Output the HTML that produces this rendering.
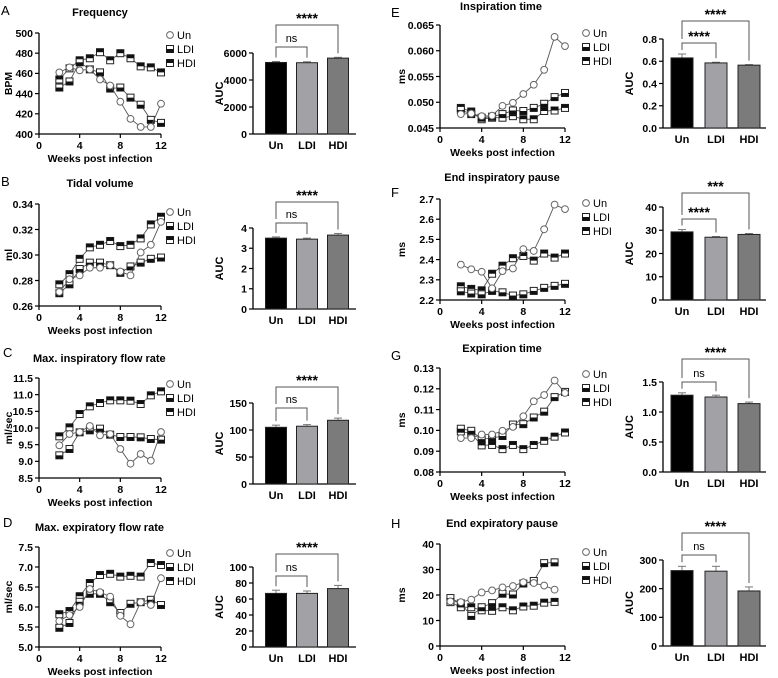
<!DOCTYPE html>
<html><head><meta charset="utf-8">
<style>
body{margin:0;background:#fff;}
svg{display:block;font-family:"Liberation Sans",Arial,sans-serif;}
</style></head>
<body>
<svg id="fig" width="778" height="678" viewBox="0 0 778 678" xmlns="http://www.w3.org/2000/svg"></svg>
<script>
const weeks = [2,3,4,5,6,7,8,9,10,11,12];
const weeksH = [1,2,3,4,5,6,7,8,9,10,11];
const groups = ["Un","LDI","HDI"];

const unA=[461,466,463,464,454,448,432,415,407,407,430];
const ldiA=[446,452,471,464,461,445,446,436,429,414,411];
const hdiA=[454,465,473,475,481,473,480,475,467,466,461];
const aucA=[5300,5280,5620]; const errA=[70,70,60];

const unB=[0.271,0.281,0.284,0.290,0.290,0.292,0.287,0.284,0.302,0.308,0.326];
const ldiB=[0.270,0.277,0.289,0.294,0.294,0.292,0.286,0.291,0.294,0.297,0.298];
const hdiB=[0.277,0.285,0.297,0.306,0.308,0.311,0.307,0.308,0.313,0.324,0.330];
const aucB=[3.5,3.45,3.65]; const errB=[0.06,0.05,0.08];

const unC=[9.48,9.82,9.88,10.06,9.78,9.82,9.37,8.93,9.22,9.02,9.88];
const ldiC=[9.18,9.37,9.87,9.93,9.98,9.8,9.73,9.73,9.72,9.67,9.65];
const hdiC=[9.75,10.02,10.42,10.65,10.75,10.83,10.83,10.82,10.72,10.98,11.1];
const aucC=[105,107,118]; const errC=[4,3,4];

const unD=[5.65,5.8,6.0,6.45,6.37,6.26,5.78,5.57,6.12,6.05,6.72];
const ldiD=[5.48,5.6,6.13,6.33,6.33,6.12,5.85,6.08,6.12,6.18,6.05];
const hdiD=[5.82,5.9,6.27,6.6,6.8,6.83,6.76,6.78,6.76,7.1,7.05];
const aucD=[67,67,73]; const errD=[4,3,4];

const unE=[0.0477,0.0478,0.0473,0.0474,0.0493,0.0499,0.0516,0.0534,0.0563,0.0627,0.0609];
const ldiE=[0.0485,0.0477,0.0470,0.0472,0.0477,0.0484,0.0483,0.0489,0.0497,0.0510,0.0518];
const hdiE=[0.0489,0.0482,0.0467,0.0470,0.0470,0.0473,0.0467,0.0467,0.0483,0.0484,0.0489];
const aucE=[0.63,0.585,0.565]; const errE=[0.035,0.006,0.005];

const unF=[2.375,2.352,2.34,2.258,2.343,2.356,2.452,2.443,2.55,2.672,2.65];
const ldiF=[2.243,2.232,2.228,2.245,2.238,2.222,2.228,2.245,2.26,2.27,2.28];
const hdiF=[2.268,2.255,2.248,2.33,2.37,2.407,2.418,2.395,2.43,2.41,2.43];
const aucF=[29.3,27,28.2]; const errF=[1.0,0.3,0.4];

const unG=[0.0963,0.0963,0.098,0.098,0.0998,0.1017,0.1068,0.114,0.117,0.124,0.118];
const ldiG=[0.1008,0.0998,0.0958,0.0963,0.0973,0.1028,0.103,0.1062,0.109,0.116,0.1185];
const hdiG=[0.0995,0.0985,0.0928,0.093,0.091,0.093,0.091,0.093,0.095,0.097,0.099];
const aucG=[1.28,1.25,1.14]; const errG=[0.04,0.03,0.025];

const unH=[17.5,17.2,18.2,21,21.8,23,23.5,25,24.7,23.7,22.1];
const ldiH=[18.8,16.7,11.8,15.2,16.8,20.5,20.2,24.5,25.5,32.5,32.8];
const hdiH=[17.2,15.2,15.2,14,13.8,15.2,14,15.5,15.8,17,17.3];
const aucH=[263,261,192]; const errH=[15,17,14];

const svg=document.getElementById('fig');
const NS='http://www.w3.org/2000/svg';
function el(tag,attrs,parent,text){const e=document.createElementNS(NS,tag);for(const k in attrs)e.setAttribute(k,attrs[k]);if(text!==undefined)e.textContent=text;(parent||svg).appendChild(e);return e;}

function marker(g,type,x,y){
  if(type==='Un'){el('circle',{cx:x,cy:y,r:3.4,fill:'#fff',stroke:'#666','stroke-width':1},g);return;}
  el('rect',{x:x-3.5,y:y-3.5,width:7,height:7,fill:'#fff',stroke:'#222','stroke-width':1},g);
  if(type==='LDI') el('rect',{x:x-3.5,y:y,width:7,height:3.5,fill:'#111'},g);
  else el('rect',{x:x-3.5,y:y-3.5,width:7,height:3.5,fill:'#111'},g);
}

function linePanel(c){
  const g=el('g',{});
  
  
  const sx=w=>c.x0+(c.x12-c.x0)*w/12;
  const sy=v=>c.yBot-(c.yBot-c.yTop)*(v-c.ymin)/(c.ymax-c.ymin);
  el('line',{x1:c.x0,y1:c.yTop,x2:c.x0,y2:c.yBot,stroke:'#000','stroke-width':1.3},g);
  el('line',{x1:c.x0,y1:c.yBot,x2:c.x12,y2:c.yBot,stroke:'#000','stroke-width':1.3},g);
  c.ticks.forEach(t=>{const y=sy(t);el('line',{x1:c.x0-4,y1:y,x2:c.x0,y2:y,stroke:'#000','stroke-width':1.2},g);
    el('text',{x:c.x0-6,y:y+3.8,'text-anchor':'end','font-size':10.5,'font-weight':'bold'},g,t.toFixed(c.dec));});
  [0,4,8,12].forEach(t=>{const x=sx(t);el('line',{x1:x,y1:c.yBot,x2:x,y2:c.yBot+4,stroke:'#000','stroke-width':1.2},g);
    el('text',{x:x,y:c.yBot+15,'text-anchor':'middle','font-size':10.5,'font-weight':'bold'},g,String(t));});
  el('text',{x:(c.x0+c.x12)/2,y:c.yBot+28,'text-anchor':'middle','font-size':10.5,'font-weight':'bold'},g,'Weeks post infection');
  el('text',{x:0,y:0,'text-anchor':'middle','font-size':10.5,'font-weight':'bold',transform:`translate(${c.ylx},${(c.yTop+c.yBot)/2}) rotate(-90)`},g,c.ylabel);
  el('text',{x:c.tx,y:c.ty,'text-anchor':c.ta||'middle','font-size':11,'font-weight':'bold'},g,c.title);
  el('text',{x:c.lx,y:c.ly,'font-size':13},g,c.letter);
  const series=[c.hdi,c.ldi,c.un];const types=['HDI','LDI','Un'];
  series.forEach((s,i)=>{
    const pts=s.map((v,j)=>sx(c.wk[j])+','+sy(v)).join(' ');
    const pl=el('polyline',{points:pts,fill:'none',stroke:'#555','stroke-width':0.9},g);
    
    
    s.forEach((v,j)=>marker(g,types[i],sx(c.wk[j]),sy(v)));
  });
  groups.forEach((n,i)=>{const y=c.legY+i*14;marker(g,n,c.legX,y);
    const t=el('text',{x:c.legX+7,y:y+4,'font-size':11},g,n);
    
    });
}

function barPanel(c){
  const g=el('g',{});
  
  
  const sy=v=>c.yBot-(c.yBot-c.yTop)*v/c.max;
  el('line',{x1:c.ax,y1:c.yTop,x2:c.ax,y2:c.yBot,stroke:'#000','stroke-width':1.3},g);
  el('line',{x1:c.ax,y1:c.yBot,x2:c.axEnd,y2:c.yBot,stroke:'#000','stroke-width':1.3},g);
  c.ticks.forEach(t=>{const y=sy(t);el('line',{x1:c.ax-4,y1:y,x2:c.ax,y2:y,stroke:'#000','stroke-width':1.2},g);
    el('text',{x:c.ax-6,y:y+3.8,'text-anchor':'end','font-size':10.5,'font-weight':'bold'},g,t.toFixed(c.dec));});
  el('text',{x:0,y:0,'text-anchor':'middle','font-size':11,'font-weight':'bold',transform:`translate(${c.ax-c.ylOff},${(c.yTop+c.yBot)/2}) rotate(-90)`},g,'AUC');
  const fills=['#000','#a2a2a6','#7b7b7b'];
  const tops=[];
  c.vals.forEach((v,i)=>{const cx=c.cx[i];const y=sy(v);
    const ey=sy(v+c.errs[i]);tops.push(ey);
    el('line',{x1:cx,y1:y,x2:cx,y2:ey,stroke:'#777','stroke-width':1},g);
    el('line',{x1:cx-4,y1:ey,x2:cx+4,y2:ey,stroke:'#777','stroke-width':1},g);
    const r=el('rect',{x:cx-c.bw/2,y:y,width:c.bw,height:c.yBot-y,fill:fills[i],stroke:'#222','stroke-width':1},g);
    
    
    el('text',{x:cx,y:c.yBot+15,'text-anchor':'middle','font-size':11,'font-weight':'bold'},g,groups[i]);});
  el('polyline',{points:`${c.cx[0]},${c.b2-4} ${c.cx[0]},${c.b1} ${c.cx[2]},${c.b1} ${c.cx[2]},${tops[2]-4}`,fill:'none',stroke:'#555','stroke-width':1},g);
  el('text',{x:(c.cx[0]+c.cx[2])/2,y:c.b1-2,'text-anchor':'middle','font-size':14,'font-weight':'bold'},g,c.s1);
  el('polyline',{points:`${c.cx[0]},${tops[0]-4} ${c.cx[0]},${c.b2} ${c.cx[1]},${c.b2} ${c.cx[1]},${tops[1]-4}`,fill:'none',stroke:'#555','stroke-width':1},g);
  if(c.s2==='ns') el('text',{x:(c.cx[0]+c.cx[1])/2,y:c.b2-5,'text-anchor':'middle','font-size':11},g,'ns');
  else el('text',{x:(c.cx[0]+c.cx[1])/2,y:c.b2-2,'text-anchor':'middle','font-size':14,'font-weight':'bold'},g,c.s2);
}

const L={x0:39,x12:161,ylx:12,legX:170};
const R={x0:440,x12:565,ylx:405,legX:586};
linePanel({...L,name:'frequency',yTop:33,yBot:134,ymin:400,ymax:500,ticks:[400,420,440,460,480,500],dec:0,wk:weeks,un:unA,ldi:ldiA,hdi:hdiA,ylabel:'BPM',title:'Frequency',tx:100,ty:16,lx:1,ly:15,letter:'A',legY:35});
linePanel({...L,name:'tidal-volume',yTop:204,yBot:306,ymin:0.26,ymax:0.34,ticks:[0.26,0.28,0.30,0.32,0.34],dec:2,wk:weeks,un:unB,ldi:ldiB,hdi:hdiB,ylabel:'ml',title:'Tidal volume',tx:100,ty:187,lx:1,ly:186,letter:'B',legY:212});
linePanel({...L,name:'max-inspiratory-flow',yTop:378,yBot:478,ymin:8.5,ymax:11.5,ticks:[8.5,9,9.5,10,10.5,11,11.5],dec:1,wk:weeks,un:unC,ldi:ldiC,hdi:hdiC,ylabel:'ml/sec',title:'Max. inspiratory flow rate',tx:33,ty:362,ta:'start',lx:3,ly:357,letter:'C',legY:384});
linePanel({...L,name:'max-expiratory-flow',yTop:547,yBot:647,ymin:5,ymax:7.5,ticks:[5,5.5,6,6.5,7,7.5],dec:1,wk:weeks,un:unD,ldi:ldiD,hdi:hdiD,ylabel:'ml/sec',title:'Max. expiratory flow rate',tx:35,ty:531,ta:'start',lx:3,ly:527,letter:'D',legY:553});
linePanel({...R,name:'inspiration-time',yTop:25,yBot:128,ymin:0.045,ymax:0.065,ticks:[0.045,0.05,0.055,0.06,0.065],dec:3,wk:weeks,un:unE,ldi:ldiE,hdi:hdiE,ylabel:'ms',title:'Inspiration time',tx:501,ty:10,lx:391,ly:17,letter:'E',legY:33});
linePanel({...R,name:'end-inspiratory-pause',yTop:199,yBot:300,ymin:2.2,ymax:2.7,ticks:[2.2,2.3,2.4,2.5,2.6,2.7],dec:1,wk:weeks,un:unF,ldi:ldiF,hdi:hdiF,ylabel:'ms',title:'End inspiratory pause',tx:502,ty:181,lx:391,ly:197,letter:'F',legY:203});
linePanel({...R,name:'expiration-time',yTop:368,yBot:472,ymin:0.08,ymax:0.13,ticks:[0.08,0.09,0.10,0.11,0.12,0.13],dec:2,wk:weeks,un:unG,ldi:ldiG,hdi:hdiG,ylabel:'ms',title:'Expiration time',tx:502,ty:352,lx:391,ly:360,letter:'G',legY:374});
linePanel({...R,name:'end-expiratory-pause',yTop:544,yBot:646,ymin:0,ymax:40,ticks:[0,10,20,30,40],dec:0,wk:weeksH,un:unH,ldi:ldiH,hdi:hdiH,ylabel:'ms',title:'End expiratory pause',tx:502,ty:527,lx:391,ly:528,letter:'H',legY:552});

const BL={ax:253,axEnd:356,cx:[276,307,338],bw:21,ylOff:30};
const BR={ax:663,axEnd:766,cx:[682,716,749],bw:22,ylOff:30};
barPanel({...BL,name:'frequency',yTop:53,yBot:134,max:6000,ticks:[0,2000,4000,6000],dec:0,vals:aucA,errs:errA,b1:25,b2:47,s1:'****',s2:'ns'});
barPanel({...BL,name:'tidal-volume',yTop:228,yBot:309,max:4,ticks:[0,1,2,3,4],dec:0,vals:aucB,errs:errB,b1:202,b2:223,s1:'****',s2:'ns'});
barPanel({...BL,name:'max-inspiratory-flow',yTop:403,yBot:484,max:150,ticks:[0,50,100,150],dec:0,vals:aucC,errs:errC,b1:387,b2:408,s1:'****',s2:'ns'});
barPanel({...BL,name:'max-expiratory-flow',yTop:567,yBot:647,max:100,ticks:[0,20,40,60,80,100],dec:0,vals:aucD,errs:errD,b1:554,b2:576,s1:'****',s2:'ns'});
barPanel({...BR,name:'inspiration-time',yTop:39,yBot:128,max:0.8,ticks:[0,0.2,0.4,0.6,0.8],dec:1,vals:aucE,errs:errE,b1:21,b2:43,s1:'****',s2:'****'});
barPanel({...BR,name:'end-inspiratory-pause',yTop:207,yBot:300,max:40,ticks:[0,10,20,30,40],dec:0,vals:aucF,errs:errF,b1:193,b2:219,s1:'***',s2:'****'});
barPanel({...BR,name:'expiration-time',yTop:382,yBot:472,max:1.5,ticks:[0,0.5,1,1.5],dec:1,vals:aucG,errs:errG,b1:359,b2:382,s1:'****',s2:'ns'});
barPanel({...BR,name:'end-expiratory-pause',yTop:560,yBot:646,max:300,ticks:[0,100,200,300],dec:0,vals:aucH,errs:errH,b1:533,b2:555,s1:'****',s2:'ns'});
</script>
</body></html>
